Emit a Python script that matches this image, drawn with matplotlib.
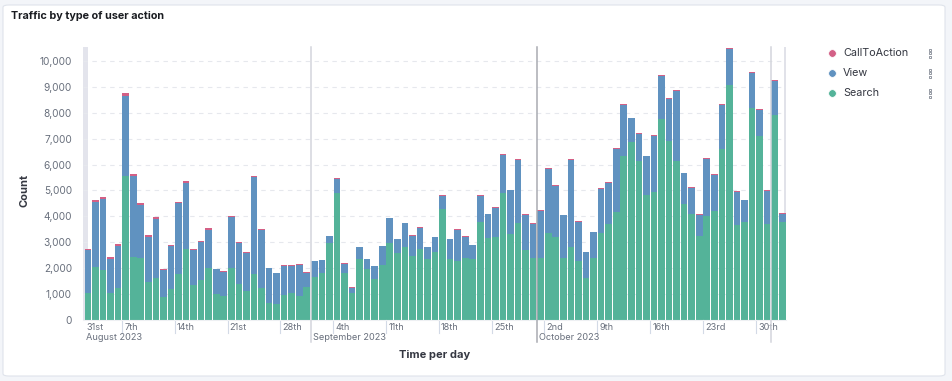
import matplotlib
matplotlib.use('Agg')
import matplotlib.pyplot as plt
from matplotlib.patches import FancyBboxPatch
from matplotlib.lines import Line2D
import matplotlib.transforms as mtransforms
import numpy as np

plt.rcParams['font.family'] = ['Inter', 'DejaVu Sans']

# ---- data (daily buckets starting 2 Aug 2023) ----
series_names = ['CallToAction', 'View', 'Search']
series_colors = ['#d36086', '#6092c0', '#54b399']

total = [2740, 4630, 4740, 2440, 2930, 8750, 5650, 4500, 3270, 3960,
         1960, 2900, 4560, 5370, 2750, 3050, 3550, 1980, 1890, 4030,
         3020, 2640, 5570, 3530, 2010, 1830, 2120, 2110, 2160, 1840,
         2290, 2320, 3260, 5470, 2210, 1260, 2830, 2360, 2100, 2870,
         3950, 3130, 3760, 3270, 3590, 2830, 3220, 4810, 3130, 3500,
         3240, 2910, 4810, 4110, 4360, 6410, 5030, 6200, 4080, 3750,
         4250, 5860, 5200, 4070, 6220, 3820, 2630, 3400, 5080, 5320,
         6630, 8340, 7800, 7210, 6350, 7130, 9460, 8560, 8880, 5690,
         5140, 4090, 6260, 5620, 8350, 10500, 4980, 4650, 9580, 8130,
         5010, 9270, 4120]

search = [1030, 2040, 1930, 1030, 1240, 5570, 2430, 2380, 1450, 1620,
          880, 1200, 1760, 2740, 1350, 1540, 2010, 1000, 940, 2010,
          1390, 1130, 1780, 1250, 640, 620, 970, 1030, 940, 1260,
          1650, 1800, 2960, 4890, 1800, 1030, 2360, 1970, 1580, 2120,
          2960, 2570, 2810, 2470, 2740, 2360, 2610, 4270, 2360, 2280,
          2380, 2360, 3800, 3150, 3210, 4890, 3310, 3760, 2700, 2410,
          2410, 3370, 3210, 2410, 2810, 2280, 1640, 2410, 3350, 3690,
          4180, 6320, 6860, 6140, 4810, 4930, 7760, 6900, 6140, 4470,
          4080, 3230, 4030, 4220, 6600, 9070, 3680, 3800, 8190, 7090,
          3720, 7920, 3800]

call_to_action = [40, 70, 70, 80, 60, 90, 80, 70, 60, 60,
                  40, 50, 60, 70, 40, 50, 70, 30, 30, 70,
                  50, 50, 60, 50, 20, 20, 30, 40, 30, 20,
                  20, 20, 30, 30, 40, 10, 20, 20, 20, 20,
                  20, 20, 20, 20, 20, 20, 20, 20, 20, 20,
                  20, 20, 20, 20, 30, 30, 30, 30, 20, 30,
                  30, 30, 30, 30, 30, 20, 20, 20, 30, 20,
                  30, 30, 20, 30, 20, 30, 30, 30, 30, 30,
                  30, 20, 30, 20, 30, 30, 40, 20, 30, 30,
                  30, 30, 20]

view = [t - s - c for t, s, c in zip(total, search, call_to_action)]

day_ticks = [(5, '7th'), (12, '14th'), (19, '21st'), (26, '28th'),
             (33, '4th'), (40, '11th'), (47, '18th'), (54, '25th'),
             (61, '2nd'), (68, '9th'), (75, '16th'), (82, '23rd'), (89, '30th')]
month_ticks = [(30, 'September 2023'), (60, 'October 2023'), (91, '')]
y_ticks = [0, 1000, 2000, 3000, 4000, 5000, 6000, 7000, 8000, 9000, 10000]

W, H = 953, 381
fig = plt.figure(figsize=(W / 100, H / 100), dpi=100, facecolor='#f3f5f9')
card = FancyBboxPatch((3 / W, 5 / H), 942 / W, 371 / H,
                      boxstyle='round,pad=0,rounding_size=0.006',
                      transform=fig.transFigure, facecolor='white',
                      edgecolor='#dfe3eb', linewidth=0.8, zorder=-10)
fig.patches.append(card)

fig.text(11 / W, 1 - 16 / H, 'Traffic by type of user action', fontsize=7.8,
         fontweight='bold', color='#1a1c21', va='center', ha='left')

ax = fig.add_axes([83 / W, 1 - 320 / H, (786 - 83) / W, (320 - 47) / H])
ax.set_zorder(1)
ax.set_facecolor('none')
n = len(total)
x = np.arange(n) + 0.5
ax.set_xlim(-0.15, n)
ax.set_ylim(0, 10540)

# partial-bucket shading / boundaries
ax.axvspan(-0.15, 0.55, color='#e3e4ec', zorder=0, lw=0)
ax.axvline(92.85, color='#dcdde5', lw=1.2, zorder=0)

for yv in y_ticks[1:]:
    ax.axhline(yv, color='#e6e8ed', lw=0.8, ls=(0, (4, 4)), zorder=0)

bottom = np.zeros(n)
stack = [(search, series_colors[2]), (view, series_colors[1]), (call_to_action, series_colors[0])]
for vals, col in stack:
    ax.bar(x, vals, width=0.88, bottom=bottom, color=col, lw=0, zorder=2)
    bottom += np.array(vals)

for s in ['top', 'right', 'left']:
    ax.spines[s].set_visible(False)
ax.spines['bottom'].set_color('#eef0f3')
ax.spines['bottom'].set_linewidth(0.8)

ax.set_yticks(y_ticks)
ax.set_yticklabels([f'{v:,}' for v in y_ticks], fontsize=7.3, color='#69707d')
ax.tick_params(axis='y', length=0, pad=8)
ax.set_xticks([])

trans = mtransforms.blended_transform_factory(ax.transData, ax.transAxes)
px = 1 / 273.0
xfs = 6.6
for pos, lab in day_ticks:
    ax.add_line(Line2D([pos, pos], [0, -13 * px], transform=trans, color='#d3dae6',
                       lw=0.8, clip_on=False))
    ax.text(pos + 0.3, -7.5 * px, lab, transform=trans, fontsize=xfs, color='#69707d',
            ha='left', va='center', clip_on=False)
for pos, lab in month_ticks:
    ax.add_line(Line2D([pos, pos], [1.0, -22 * px], transform=trans,
                       color='#a9abb2' if pos == 60 else '#d3d5dc', lw=1.1, clip_on=False, zorder=3))
    if lab:
        ax.text(pos + 0.3, -17.5 * px, lab, transform=trans, fontsize=xfs, color='#69707d',
                ha='left', va='center', clip_on=False)
ax.text(0.3, -7.5 * px, '31st', transform=trans, fontsize=xfs, color='#69707d',
        ha='left', va='center', clip_on=False)
ax.text(0.3, -17.5 * px, 'August 2023', transform=trans, fontsize=xfs, color='#69707d',
        ha='left', va='center', clip_on=False)

fig.text(435 / W, 1 - 355 / H, 'Time per day', fontsize=8, fontweight='bold',
         color='#343741', ha='center', va='center')
fig.text(25 / W, 1 - 190 / H, 'Count', fontsize=8, fontweight='bold',
         color='#343741', ha='center', va='center', rotation=90)

# legend
for i, (name, col) in enumerate(zip(series_names, series_colors)):
    yy = 1 - (53 + 20 * i) / H
    fig.add_artist(Line2D([832 / W], [yy], marker='o', markersize=5.5, color=col,
                          markeredgecolor='white', markeredgewidth=0.5, lw=0,
                          transform=fig.transFigure))
    fig.text(843 / W, yy, name, fontsize=7.8, color='#343741', ha='left', va='center')
    for k in (-1, 0, 1):
        fig.add_artist(Line2D([930 / W], [yy + k * 3.5 / H], marker='s', markersize=1.6,
                              markerfacecolor='white', markeredgecolor='#69707d',
                              markeredgewidth=0.5, lw=0, transform=fig.transFigure))

fig.savefig('out.png', dpi=100, facecolor=fig.get_facecolor())
